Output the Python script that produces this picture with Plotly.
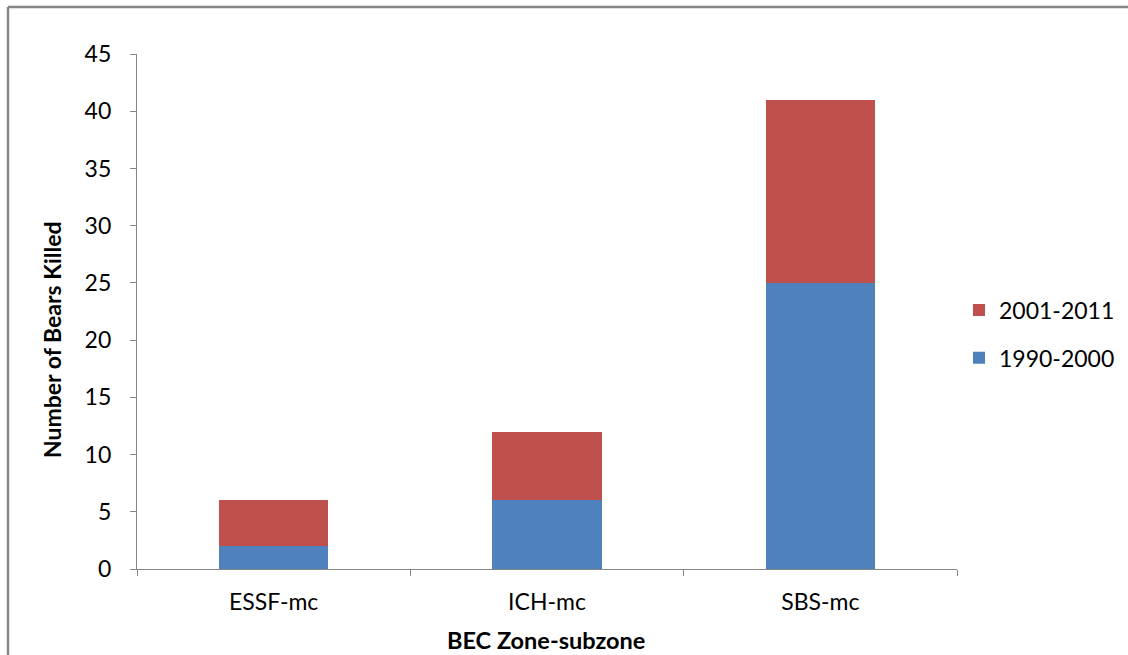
import plotly.graph_objects as go

categories = ["ESSF-mc", "ICH-mc", "SBS-mc"]
period_1990_2000 = [2, 6, 25]
period_2001_2011 = [4, 6, 16]
y_ticks = [0, 5, 10, 15, 20, 25, 30, 35, 40, 45]

FONT = "Lato, Carlito, Calibri, sans-serif"
AXIS = "#868686"

fig = go.Figure()
fig.add_trace(go.Bar(name="1990-2000", x=categories, y=period_1990_2000,
                     legendgroup="a", legendrank=2,
                     marker=dict(color="#4F81BD", line=dict(width=0))))
fig.add_trace(go.Bar(name="2001-2011", x=categories, y=period_2001_2011,
                     legendgroup="b", legendrank=1,
                     marker=dict(color="#C0504D", line=dict(width=0))))

W, H = 1128, 655
L, R, T, B = 137, 957, 54, 569


def px(p):
    return (p - L) / (R - L)


def py(p):
    return (B - p) / (B - T)


fig.update_layout(
    barmode="stack",
    bargap=0.6,
    width=W, height=H,
    margin=dict(l=L, r=W - R, t=T, b=H - B, autoexpand=False),
    paper_bgcolor="white",
    plot_bgcolor="white",
    font=dict(family=FONT, size=23, color="#000000"),
    showlegend=True,
    legend=dict(x=px(959), xanchor="left", y=py(334), yanchor="middle",
                traceorder="grouped", font=dict(size=23, family=FONT),
                tracegroupgap=15, bgcolor="rgba(0,0,0,0)"),
    xaxis=dict(
        showline=True, linecolor=AXIS, linewidth=1.3,
        ticks="outside", tickson="boundaries", ticklen=6, tickcolor=AXIS,
        showgrid=False, zeroline=False,
        tickfont=dict(size=23, family=FONT),
        ticklabelstandoff=12,
    ),
    yaxis=dict(
        range=[0, 45], tickvals=y_ticks,
        showline=True, linecolor=AXIS, linewidth=1.3,
        ticks="outside", ticklen=6, tickcolor=AXIS,
        showgrid=False, zeroline=False,
        tickfont=dict(size=23, family=FONT),
        ticklabelstandoff=14,
    ),
    annotations=[
        dict(text="<b>BEC Zone-subzone</b>", xref="paper", yref="paper",
             x=px(546), y=py(640), xanchor="center", yanchor="middle",
             showarrow=False, font=dict(size=23.5, family=FONT)),
        dict(text="<b>Number of Bears Killed</b>", xref="paper", yref="paper",
             x=px(52), y=py(340), xanchor="center", yanchor="middle", textangle=-90,
             showarrow=False, font=dict(size=23, family=FONT)),
    ],
)

# outer chart-area border (clipped by the page on right and bottom)
bx = px(8)
by = py(7)
fig.add_shape(type="line", xref="paper", yref="paper", x0=bx, x1=bx, y0=-1, y1=by,
              line=dict(color=AXIS, width=2.5))
fig.add_shape(type="line", xref="paper", yref="paper", x0=bx, x1=2, y0=by, y1=by,
              line=dict(color=AXIS, width=2.5))

fig.write_html("out.html", config={"displayModeBar": False},
               post_script="document.body.style.margin='0';")
